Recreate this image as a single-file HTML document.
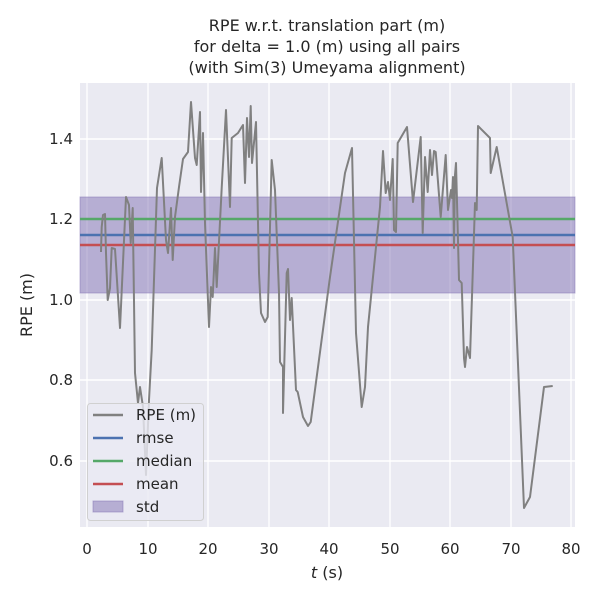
<!DOCTYPE html><html><head><style>body{margin:0;background:#fff}</style></head><body>
<svg width="600" height="600" xmlns="http://www.w3.org/2000/svg" font-family="'DejaVu Sans','Liberation Sans',sans-serif">
<rect x="80" y="83" width="495" height="444" fill="#eaeaf2"/>
<g stroke="#fff" stroke-width="1.4">
<line x1="87" y1="83" x2="87" y2="527"/><line x1="148" y1="83" x2="148" y2="527"/><line x1="208" y1="83" x2="208" y2="527"/><line x1="269" y1="83" x2="269" y2="527"/><line x1="329" y1="83" x2="329" y2="527"/><line x1="390" y1="83" x2="390" y2="527"/><line x1="450" y1="83" x2="450" y2="527"/><line x1="511" y1="83" x2="511" y2="527"/><line x1="571" y1="83" x2="571" y2="527"/>
<line x1="80" y1="139" x2="575" y2="139"/><line x1="80" y1="219" x2="575" y2="219"/><line x1="80" y1="300" x2="575" y2="300"/><line x1="80" y1="380" x2="575" y2="380"/><line x1="80" y1="461" x2="575" y2="461"/>
</g>
<rect x="80" y="197" width="495" height="96" fill="#8172b3" fill-opacity="0.5" stroke="#8172b3" stroke-opacity="0.5"/>
<line x1="80" y1="219" x2="575" y2="219" stroke="#55a868" stroke-width="2.4"/>
<line x1="80" y1="235" x2="575" y2="235" stroke="#4c72b0" stroke-width="2.4"/>
<line x1="80" y1="245" x2="575" y2="245" stroke="#c44e52" stroke-width="2.4"/>
<polyline fill="none" stroke="#808080" stroke-width="2" stroke-linejoin="round" points="101,252 101.7,227 103,215 105,214 106,253 107.7,300 110,288 111.7,248 115,249 120,328 126,197 129,205 130.7,243 132.7,208 135,373 138,403 140,387 143,407 146,475 149,400 151.7,350 157,188 161.7,158 166,240 168,253 171,208 172.7,260 175,217 179,187 183,159 188,152 191,102 195,158 196.7,165 200,112 201,192 203,133 205,223 209,327 211,287 212.7,297 215,248 216.7,287 221.7,188 226,110 230,207 231.7,138 238,133 241.7,127 243,125 245,183 247,118 249,157 250.7,106 252,163 256,122 259,273 261,313 265,322 267.7,317 271.7,160 275,190 279,293 280,362 283,367 283,413 286.7,273 288,269 290,320 291.7,298 296,390 297.7,392 303,417 308,426 310.7,422 330,277 345,173 352,148 356,333 361.7,407 365,387 368,327 380,207 383,151 385.7,193 388,182 390,200 392.7,159 394,230 396,232 397.7,143 407,127 413,202 420.7,137 422.7,233 425,157 427.7,192 430,150 432,175 434,151 435.7,152 440.7,217 445.7,155 448,210 451,190 452,198 453,177 454,248 455,175 456,163 459,280 461.7,283 464,358 465,367 467,347 470,358 475,203 476.7,210 478,126 490,138 490.7,173 496.7,147 512.7,237 524,508 530,497 544,387 552.7,386"/>
<g font-size="15" fill="#262626" text-anchor="middle">
<text x="87" y="554">0</text><text x="148" y="554">10</text><text x="208" y="554">20</text><text x="269" y="554">30</text><text x="329" y="554">40</text><text x="390" y="554">50</text><text x="450" y="554">60</text><text x="511" y="554">70</text><text x="571" y="554">80</text>
</g>
<g font-size="16" fill="#262626" text-anchor="middle">
<text x="327" y="578"><tspan font-style="italic">t</tspan> (s)</text>
<text x="327" y="31">RPE w.r.t. translation part (m)</text>
<text x="327" y="52">for delta = 1.0 (m) using all pairs</text>
<text x="327" y="73">(with Sim(3) Umeyama alignment)</text>
</g>
<g font-size="15" fill="#262626" text-anchor="end">
<text x="73" y="144">1.4</text><text x="73" y="224">1.2</text><text x="73" y="305">1.0</text><text x="73" y="385">0.8</text><text x="73" y="466">0.6</text>
</g>
<text transform="translate(32,305) rotate(-90)" font-size="16" fill="#262626" text-anchor="middle">RPE (m)</text>
<rect x="87.5" y="403.5" width="116" height="117" rx="3" fill="#eaeaf2" fill-opacity="0.8" stroke="#d0d0d0"/>
<g stroke-width="2.4"><line x1="93" y1="415" x2="123" y2="415" stroke="#808080"/><line x1="93" y1="438" x2="123" y2="438" stroke="#4c72b0"/><line x1="93" y1="461" x2="123" y2="461" stroke="#55a868"/><line x1="93" y1="484" x2="123" y2="484" stroke="#c44e52"/></g>
<rect x="93" y="501" width="30" height="11" fill="#8172b3" fill-opacity="0.5" stroke="#8172b3" stroke-opacity="0.5"/>
<g font-size="15" fill="#262626"><text x="136" y="420">RPE (m)</text><text x="136" y="443">rmse</text><text x="136" y="466">median</text><text x="136" y="489">mean</text><text x="136" y="512">std</text></g>
</svg></body></html>
